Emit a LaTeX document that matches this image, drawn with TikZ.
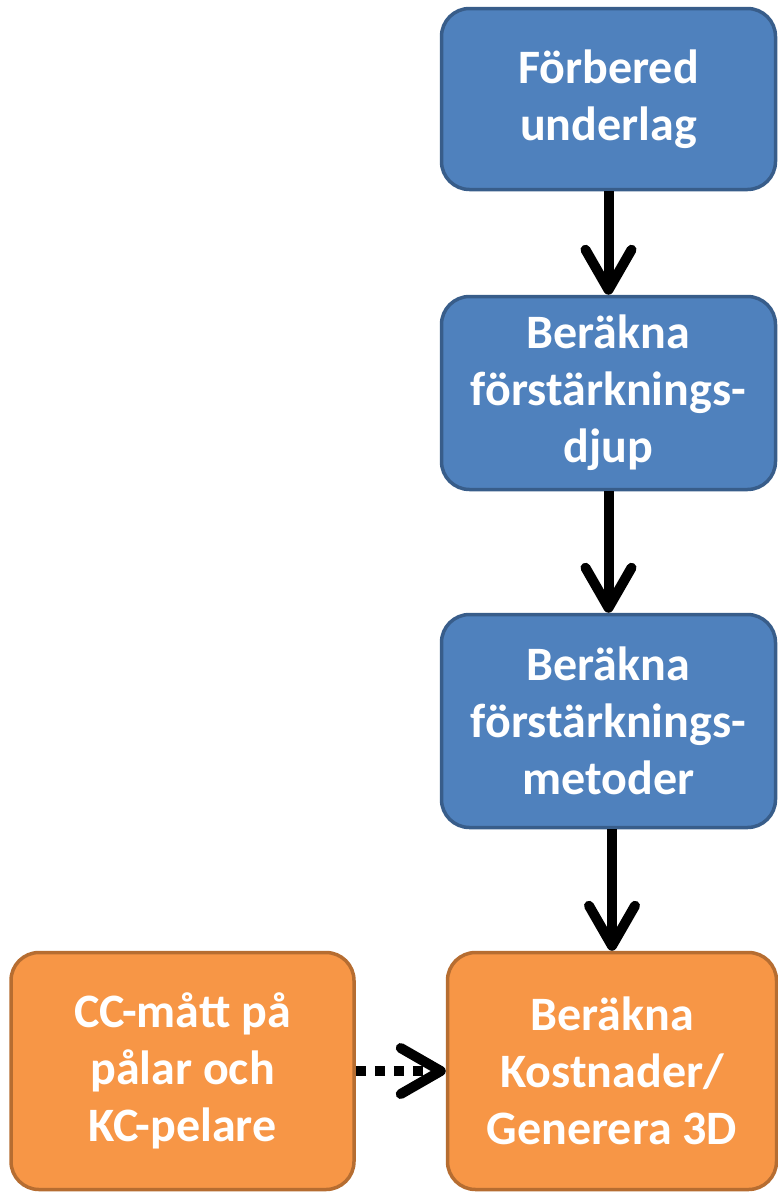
\documentclass[tikz,border=0pt]{standalone}
\usepackage{fontspec}
\setmainfont{Carlito}
\usetikzlibrary{arrows.meta}
\definecolor{stepblue}{HTML}{4F81BD}
\definecolor{stepblueline}{HTML}{385D8A}
\definecolor{steporange}{HTML}{F79646}
\definecolor{steporangeline}{HTML}{B66D31}
\begin{document}
\begin{tikzpicture}[x=1pt,y=-1pt]
  \tikzstyle{every node}=[rectangle,rounded corners=28pt,line width=3.5pt,align=center,
    text=white,font=\fontsize{48}{57}\selectfont\bfseries,inner sep=0pt]
  \tikzstyle{bluebox}=[fill=stepblue,draw=stepblueline,minimum width=334pt]
  \tikzstyle{orangebox}=[fill=steporange,draw=steporangeline]
  \tikzstyle{flow}=[line width=10pt,-{Straight Barb[length=40pt,width=46pt,line cap=round,line join=round]}]
  \useasboundingbox (0,0) rectangle (777,1192);
  \node[bluebox,minimum height=181pt] (prep) at (608.5,99) {Förbered\\underlag};
  \node[bluebox,minimum height=193pt] (depth) at (608.5,393) {Beräkna\\förstärknings-\\djup};
  \node[bluebox,minimum height=213pt] (method) at (608.5,721) {Beräkna\\förstärknings-\\metoder};
  \node[orangebox,minimum width=329pt,minimum height=237pt] (cost) at (612,1071)
    {Beräkna\\Kostnader/\\Generera 3D};
  \node[orangebox,minimum width=343pt,minimum height=237pt] (cc) at (182.5,1071)
    {CC-mått på\\pålar och\\KC-pelare};
  \draw[flow] (prep) -- (depth);
  \draw[flow] (depth) -- (method);
  \draw[flow] (method.south -| cost.north) -- (cost);
  \draw[flow,dash pattern=on 10pt off 9pt] (cc) -- (cost);
\end{tikzpicture}
\end{document}
